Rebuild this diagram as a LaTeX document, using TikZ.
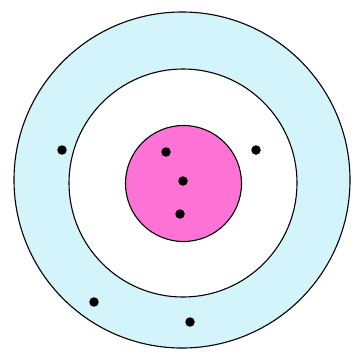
\documentclass[tikz,border=0pt]{standalone}
\definecolor{ltblue}{RGB}{210,244,250}
\definecolor{pinkc}{RGB}{255,115,215}
\begin{document}
\begin{tikzpicture}[x=1pt,y=-1pt,
  ring/.style={circle,draw=black,line width=1.1pt,inner sep=0pt},
  dot/.style={circle,fill=black,inner sep=0pt,minimum size=9.5pt}]
\useasboundingbox (0,0) rectangle (355,354);
\node[ring,fill=ltblue,minimum size=336pt] (outer) at (182,180) {};
\node[ring,fill=white,minimum size=228pt] (middle) at (183,183) {};
\node[ring,fill=pinkc,minimum size=116pt] (inner) at (183.5,183.5) {};
\node[dot] (d1) at (166,152) {};
\node[dot] (d2) at (183,181) {};
\node[dot] (d3) at (180,214) {};
\node[dot] (d4) at (62,150) {};
\node[dot] (d5) at (256,150) {};
\node[dot] (d6) at (94,302) {};
\node[dot] (d7) at (190,322) {};
\end{tikzpicture}
\end{document}
